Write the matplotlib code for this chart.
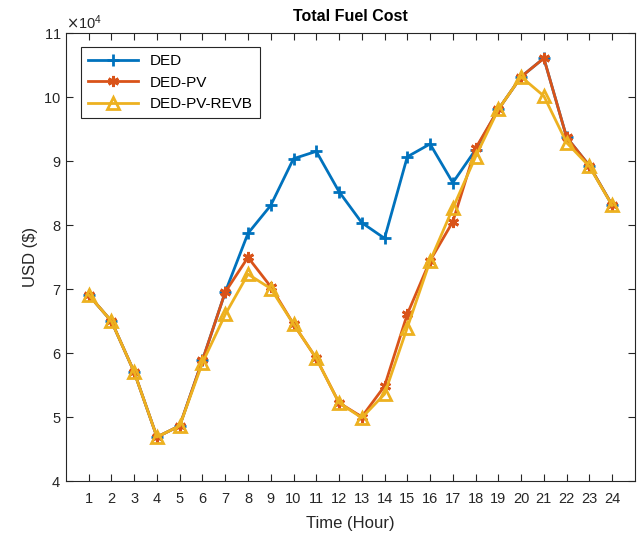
import matplotlib.pyplot as plt
from matplotlib.ticker import ScalarFormatter

plt.rcParams['font.family'] = ['Liberation Sans', 'DejaVu Sans']

hours = list(range(1, 25))
ded = [69100, 65000, 57050, 46900, 48650, 58900, 69550, 78730, 83100, 90400,
       91550, 85250, 80400, 77950, 90700, 92700, 86650, 91800, 98100, 103200,
       106100, 93750, 89300, 83150]
ded_pv = [69100, 65000, 57050, 46900, 48650, 58900, 69550, 74980, 70400, 64550,
          59200, 52250, 50050, 54850, 66100, 74450, 80550, 92000, 98100, 103200,
          106100, 93750, 89300, 83150]
ded_pv_revb = [69100, 65000, 57050, 46900, 48650, 58500, 66050, 72350, 70100, 64550,
               59200, 52250, 49900, 53600, 64000, 74400, 82650, 90700, 98100, 103200,
               100200, 92900, 89200, 83100]

c_blue = '#0072BD'
c_orange = '#D95319'
c_yellow = '#EDB120'
axis_col = '#262626'

fig = plt.figure(figsize=(6.4, 5.37), dpi=100)
ax = fig.add_axes([0.103, 0.104, 0.889, 0.834])

ax.plot(hours, ded, color=c_blue, lw=2, marker='+', ms=9, mew=2, label='DED')
ax.plot(hours, ded_pv, color=c_orange, lw=2, marker=(6, 2, 0), ms=8, mew=2, label='DED-PV')
ax.plot(hours, ded_pv_revb, color=c_yellow, lw=2, marker='^', ms=9, mew=2,
        mfc='none', label='DED-PV-REVB')

ax.set_xlim(0, 25)
ax.set_ylim(40000, 110000)
ax.set_xticks(hours)
ax.set_yticks(range(40000, 110001, 10000))

fmt = ScalarFormatter(useMathText=True)
fmt.set_powerlimits((4, 4))
ax.yaxis.set_major_formatter(fmt)
ax.yaxis.get_offset_text().set_fontsize(10.5)
ax.yaxis.get_offset_text().set_color(axis_col)

ax.tick_params(direction='in', top=True, right=True, length=5, width=0.8,
               colors=axis_col, labelsize=10.5)
ax.tick_params(axis='x', pad=8)
for s in ax.spines.values():
    s.set_color(axis_col)
    s.set_linewidth(0.8)

ax.set_title('Total Fuel Cost', fontsize=11.5, fontweight='bold', color='black', pad=9)
ax.set_xlabel('Time (Hour)', fontsize=12, color=axis_col, labelpad=7)
ax.set_ylabel('USD ($)', fontsize=12, color=axis_col)

leg = ax.legend(loc='upper left', bbox_to_anchor=(0.026, 0.969), borderaxespad=0,
                fontsize=11, fancybox=False, edgecolor=axis_col, framealpha=1,
                handlelength=3.3, borderpad=0.45, labelspacing=0.5)
leg.get_frame().set_linewidth(0.8)

fig.savefig('out.png', dpi=100)
